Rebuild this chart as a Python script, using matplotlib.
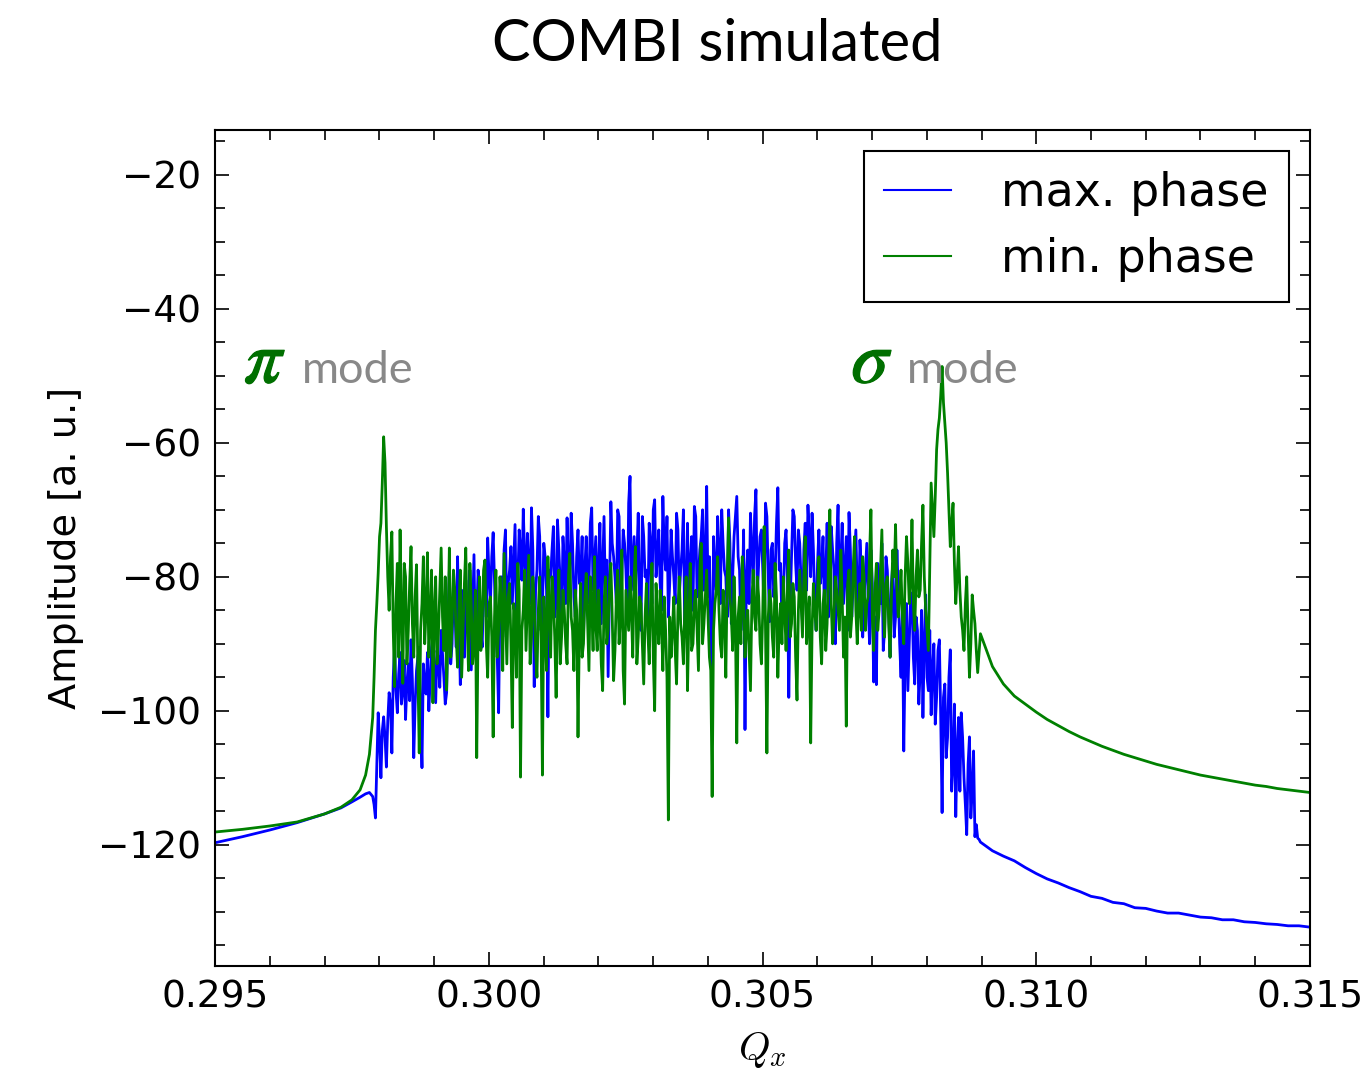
import numpy as np
import matplotlib
matplotlib.use("Agg")
import matplotlib.pyplot as plt
import matplotlib.patheffects as pe

# --- data ------------------------------------------------------------------
# smooth low-Q tail
q_left = [0.2950, 0.2955, 0.2960, 0.2965, 0.2970, 0.2973, 0.2975, 0.29765, 0.29775, 0.29782]
amp_max_left = [-119.7, -118.8, -117.8, -116.7, -115.4, -114.5, -113.6, -112.9, -112.4, -112.2]
amp_min_left = [-118.1, -117.7, -117.2, -116.6, -115.4, -114.4, -113.3, -111.8, -109.6, -106.5]

# noisy band between the pi and sigma modes, read at a uniform step:
# "*_noise" are the readings on the coarse grid, "*_mid" the readings half a step later
q_noise = np.linspace(0.29788, 0.30898, 445)

amp_max_noise = [
    -112.8, -116.0, -100.3, -110.0, -100.9, -108.4, -97.3, -106.3, -90.4, -100.3,
    -91.3, -97.0, -101.3, -93.0, -89.4, -107.0, -94.0, -90.5, -108.5, -96.0,
    -91.3, -95.5, -89.0, -98.8, -92.5, -88.0, -95.0, -97.3, -79.2, -90.0,
    -84.5, -77.0, -96.1, -85.0, -80.5, -89.0, -93.9, -76.7, -86.0, -82.0,
    -90.5, -78.0, -74.2, -84.0, -73.4, -88.0, -100.3, -80.0, -76.0, -87.0,
    -79.0, -84.0, -72.2, -81.0, -76.0, -69.9, -83.0, -78.0, -69.7, -96.4,
    -79.0, -74.0, -85.0, -77.0, -100.9, -80.0, -72.5, -84.0, -76.0, -88.0,
    -78.0, -71.2, -82.0, -75.0, -86.0, -73.0, -80.0, -89.0, -74.0, -81.0,
    -69.7, -78.0, -85.0, -72.0, -79.0, -83.0, -94.9, -68.8, -77.0, -84.0,
    -71.0, -80.0, -75.0, -86.0, -65.0, -78.0, -82.0, -70.5, -88.0, -74.0,
    -79.0, -72.0, -84.0, -68.5, -77.0, -81.0, -68.0, -79.0, -86.0, -73.0,
    -80.0, -70.5, -83.0, -76.0, -89.0, -72.0, -78.0, -85.0, -71.0, -80.0,
    -74.0, -82.0, -66.5, -77.0, -99.6, -79.0, -71.0, -84.0, -75.0, -80.0,
    -70.0, -87.0, -74.0, -68.0, -79.0, -84.0, -102.8, -76.0, -70.5, -81.0,
    -67.0, -78.0, -73.0, -85.0, -71.0, -86.7, -75.0, -80.0, -66.7, -78.0,
    -84.0, -73.0, -98.0, -77.0, -71.0, -82.0, -75.0, -87.0, -72.0, -69.3,
    -80.0, -76.0, -88.0, -73.0, -79.0, -85.0, -72.0, -81.0, -76.0, -90.0,
    -69.3, -78.0, -84.0, -74.0, -70.4, -86.0, -77.0, -82.0, -74.5, -89.0,
    -79.0, -84.0, -76.0, -95.7, -96.1, -80.0, -75.0, -88.0, -79.0, -92.0,
    -78.0, -86.0, -82.0, -95.0, -106.0, -84.0, -90.0, -82.4, -96.0, -88.0,
    -94.0, -101.0, -82.7, -97.0, -100.6, -90.0, -98.0, -89.4, -115.2, -96.0,
    -104.0, -90.9, -108.0, -115.8, -101.0, -100.3, -110.0, -118.5, -103.9, -112.0,
    -118.8, -119.0, -119.6,
]
amp_max_mid = [
    -114.0, -108.0, -104.5, -103.0, -104.0, -101.5, -99.0, -95.0, -97.0, -94.5,
    -99.0, -92.5, -96.0, -98.5, -95.5, -99.0, -92.0, -101.0, -93.0, -97.5,
    -100.0, -90.5, -94.0, -91.0, -96.5, -91.5, -99.0, -86.0, -93.0, -81.0,
    -90.5, -87.0, -82.0, -92.0, -86.0, -79.0, -85.0, -91.0, -79.0, -88.0,
    -81.5, -86.0, -80.0, -77.0, -81.0, -92.0, -83.0, -89.0, -73.0, -81.0,
    -75.5, -78.0, -86.0, -73.0, -80.5, -77.0, -73.5, -84.0, -76.0, -82.0,
    -71.0, -88.0, -75.0, -82.0, -79.0, -76.0, -86.0, -71.5, -81.0, -74.0,
    -84.0, -79.0, -70.5, -83.0, -77.0, -81.0, -74.0, -79.0, -84.0, -72.0,
    -82.0, -74.0, -79.0, -87.0, -71.0, -77.5, -82.0, -75.0, -80.0, -70.0,
    -85.0, -73.0, -79.0, -69.0, -82.0, -74.0, -77.0, -84.0, -71.0, -80.0,
    -86.0, -75.0, -70.0, -80.0, -73.0, -85.0, -76.0, -71.0, -81.0, -77.0,
    -84.0, -73.0, -79.0, -70.0, -82.0, -86.0, -74.0, -69.5, -83.0, -76.0,
    -70.0, -78.0, -83.0, -88.0, -74.0, -82.0, -76.0, -70.0, -79.0, -86.0,
    -75.0, -80.0, -71.0, -77.0, -88.0, -73.0, -80.0, -84.0, -76.0, -71.0,
    -83.0, -74.0, -79.0, -69.0, -80.0, -76.0, -83.0, -72.0, -79.0, -87.0,
    -75.0, -80.0, -84.0, -70.0, -78.0, -73.0, -81.0, -76.0, -82.0, -74.0,
    -70.5, -84.0, -78.0, -81.0, -74.0, -80.0, -86.0, -72.5, -79.0, -75.0,
    -83.0, -72.0, -79.0, -88.0, -76.0, -81.0, -73.0, -86.0, -79.0, -83.0,
    -75.0, -90.0, -81.0, -86.0, -78.0, -84.0, -91.0, -77.0, -85.0, -81.0,
    -89.0, -76.0, -90.0, -85.0, -92.0, -97.0, -83.0, -92.0, -86.0, -99.0,
    -85.0, -90.0, -95.0, -88.0, -94.0, -102.0, -91.0, -101.0, -98.0, -107.0,
    -95.0, -112.0, -99.0, -106.0, -112.0, -104.0, -114.0, -108.0, -116.0, -106.0,
    -117.0, -119.2,
]

amp_min_noise = [
    -101.0, -88.0, -79.5, -72.0, -59.1, -72.5, -85.0, -73.3, -96.4, -78.0,
    -73.0, -95.9, -80.0, -88.0, -75.5, -92.0, -78.2, -106.3, -84.0, -90.0,
    -76.4, -86.0, -98.8, -80.0, -88.5, -75.7, -91.0, -96.9, -75.7, -87.0,
    -82.0, -93.5, -79.0, -88.0, -75.7, -94.0, -84.0, -90.0, -107.0, -80.0,
    -86.5, -77.5, -95.0, -83.0, -103.9, -79.0, -88.0, -84.0, -76.5, -93.0,
    -81.0, -102.5, -86.0, -78.0, -109.9, -85.0, -91.0, -76.8, -89.0, -84.0,
    -95.0, -80.0, -109.6, -87.0, -77.0, -92.0, -83.0, -98.0, -79.0, -89.0,
    -85.0, -93.0, -76.5, -88.0, -82.0, -103.9, -81.0, -90.0, -79.5, -94.0,
    -84.0, -77.0, -91.0, -86.0, -97.0, -80.0, -88.0, -78.0, -95.5, -83.0,
    -90.0, -76.0, -99.0, -85.0, -80.0, -92.0, -75.5, -89.0, -84.0, -96.0,
    -81.0, -93.0, -78.0, -100.0, -86.0, -82.0, -94.0, -88.0, -116.3, -92.0,
    -83.0, -96.0, -80.0, -89.0, -85.0, -97.0, -78.0, -90.0, -82.0, -94.0,
    -75.0, -87.0, -79.0, -92.0, -112.8, -84.0, -77.0, -90.0, -82.0, -95.0,
    -71.2, -86.0, -80.0, -104.8, -83.0, -77.0, -92.0, -85.0, -97.0, -79.0,
    -88.0, -83.0, -93.0, -72.5, -106.3, -82.0, -89.0, -78.0, -95.0, -84.0,
    -80.0, -91.0, -76.0, -87.0, -83.0, -98.4, -79.0, -89.0, -74.0, -86.0,
    -104.8, -81.0, -88.0, -77.0, -93.0, -82.0, -87.0, -70.0, -90.0, -80.0,
    -85.0, -76.0, -92.0, -102.3, -79.0, -86.0, -74.0, -90.0, -81.0, -77.0,
    -88.0, -83.0, -70.0, -91.0, -78.0, -85.0, -73.0, -89.0, -80.0, -92.0,
    -76.0, -72.2, -86.0, -79.0, -90.0, -74.0, -84.0, -71.5, -88.0, -76.0,
    -82.0, -69.3, -85.0, -91.0, -66.0, -74.0, -61.0, -56.3, -48.6, -57.0,
    -64.5, -75.5, -69.0, -84.0, -75.5, -86.0, -91.0, -80.0, -95.0, -82.7,
    -87.0, -94.3, -88.5,
]
amp_min_mid = [
    -95.0, -84.0, -74.0, -66.0, -63.0, -80.0, -77.0, -88.0, -84.0, -92.0,
    -86.0, -78.0, -93.0, -81.0, -87.0, -83.0, -94.0, -88.0, -77.0, -85.0,
    -92.0, -79.0, -85.0, -93.0, -82.0, -86.0, -80.0, -88.0, -92.0, -79.0,
    -89.0, -84.0, -95.0, -81.0, -87.0, -78.0, -93.0, -82.0, -88.0, -91.0,
    -79.0, -90.0, -84.0, -89.0, -86.0, -92.0, -80.0, -94.0, -85.0, -83.0,
    -90.0, -84.0, -95.0, -82.0, -88.0, -79.0, -84.0, -93.0, -80.0, -91.0,
    -85.0, -89.0, -83.0, -94.0, -85.0, -80.0, -89.0, -86.0, -93.0, -82.0,
    -90.0, -80.0, -86.0, -94.0, -85.0, -88.0, -92.0, -83.0, -87.0, -80.0,
    -91.0, -87.0, -82.0, -93.0, -84.0, -90.0, -81.0, -86.0, -91.0, -79.0,
    -86.0, -94.0, -82.0, -88.0, -85.0, -80.0, -93.0, -83.0, -90.0, -86.0,
    -88.0, -84.0, -92.0, -81.0, -90.0, -87.0, -83.0, -95.0, -86.0, -88.0,
    -91.0, -85.0, -87.0, -93.0, -80.0, -86.0, -91.0, -84.0, -88.0, -79.0,
    -90.0, -83.0, -86.0, -94.0, -88.0, -82.0, -85.0, -92.0, -86.0, -80.0,
    -83.0, -91.0, -87.0, -86.0, -90.0, -82.0, -88.0, -91.0, -84.0, -86.0,
    -80.0, -90.0, -85.0, -88.0, -86.0, -84.0, -92.0, -83.0, -87.0, -90.0,
    -85.0, -82.0, -89.0, -81.0, -92.0, -85.0, -84.0, -80.0, -90.0, -83.0,
    -88.0, -85.0, -82.0, -89.0, -84.0, -91.0, -78.0, -84.0, -86.0, -82.0,
    -88.0, -83.0, -86.0, -81.0, -89.0, -79.0, -85.0, -84.0, -88.0, -80.0,
    -84.0, -77.0, -86.0, -82.0, -88.0, -79.0, -84.0, -81.0, -87.0, -83.0,
    -80.0, -82.0, -83.0, -86.0, -80.0, -78.0, -81.0, -84.0, -80.0, -83.0,
    -75.0, -80.0, -88.0, -78.0, -70.0, -68.0, -58.0, -53.0, -54.0, -60.0,
    -70.0, -72.0, -78.0, -80.0, -82.0, -88.0, -84.0, -88.0, -90.0, -85.0,
    -91.0, -91.5,
]

# smooth high-Q tail
q_right = np.linspace(0.3092, 0.3150, 30)
amp_max_right = [-120.9, -121.7, -122.4, -123.4, -124.3, -125.1, -125.7, -126.4, -127.0, -127.7,
                 -128.0, -128.6, -128.8, -129.4, -129.5, -129.9, -130.2, -130.2, -130.5, -130.8,
                 -130.9, -131.2, -131.2, -131.5, -131.6, -131.8, -131.9, -132.1, -132.1, -132.3]
amp_min_right = [-93.4, -96.0, -97.8, -99.0, -100.2, -101.3, -102.2, -103.1, -103.9, -104.6,
                 -105.3, -105.9, -106.5, -107.0, -107.5, -108.0, -108.4, -108.8, -109.2, -109.6,
                 -109.9, -110.2, -110.5, -110.8, -111.1, -111.3, -111.6, -111.8, -112.0, -112.2]

series_labels = ["max. phase", "min. phase"]
series_colors = ["#0000ff", "#008000"]


def weave(coarse, mid):
    # coarse readings at even slots, half-step readings in between
    out = np.empty(len(coarse) + len(mid))
    out[0::2] = coarse
    out[1::2] = mid
    return out


# --- figure ----------------------------------------------------------------
plt.rcParams['mathtext.fontset'] = 'cm'
plt.rcParams['font.family'] = ['DejaVu Sans']

fig = plt.figure(figsize=(13.67, 10.70), dpi=100)
ax = fig.add_axes([0.1573, 0.0972, 0.8010, 0.7813])

q_all = np.concatenate([q_left, q_noise, q_right])
amp_max = np.concatenate([amp_max_left, weave(amp_max_noise, amp_max_mid), amp_max_right])
amp_min = np.concatenate([amp_min_left, weave(amp_min_noise, amp_min_mid), amp_min_right])

ax.plot(q_all, amp_max, color=series_colors[0], lw=2.0, label=series_labels[0])
ax.plot(q_all, amp_min, color=series_colors[1], lw=2.0, label=series_labels[1])

ax.set_xlim(0.295, 0.315)
ax.set_ylim(-138.1, -13.3)
ax.set_xticks([0.295, 0.300, 0.305, 0.310, 0.315])
ax.set_xticks(np.arange(0.295, 0.3151, 0.001), minor=True)
ax.set_yticks([-120, -100, -80, -60, -40, -20])
ax.set_yticks(np.arange(-135, -14, 5), minor=True)
ax.set_yticklabels(["\u2212120", "\u2212100", "\u221280", "\u221260", "\u221240", "\u221220"])
ax.tick_params(which='both', direction='in', top=True, right=True,
               labelsize=27, width=1.2, pad=10)
ax.tick_params(which='major', length=10)
ax.tick_params(which='minor', length=7)
for s in ax.spines.values():
    s.set_linewidth(1.5)

ax.set_xlabel(r"$Q_x$", fontsize=29, labelpad=10)
ax.set_ylabel("Amplitude [a. u.]", fontsize=27.5, labelpad=10)

leg = ax.legend(loc='upper right', fontsize=33, fancybox=False, framealpha=1,
                edgecolor='black', handlelength=1.45, handletextpad=1.1,
                borderaxespad=0.46, borderpad=0.44, labelspacing=0.45)
leg.get_frame().set_linewidth(1.5)
for h in leg.get_lines():
    h.set_linewidth(1.5)

# mode annotations
mode_green = '#006f00'
bold = [pe.withStroke(linewidth=0.9, foreground=mode_green)]
ax.text(0.29553, -51.0, r"$\pi$", color=mode_green, fontsize=54, va='baseline',
        math_fontfamily='stix', path_effects=bold)
ax.text(0.29659, -51.0, "mode", color='#888888', fontsize=32.5, family='Lato', va='baseline')
ax.text(0.30662, -51.0, r"$\sigma$", color=mode_green, fontsize=54, va='baseline',
        math_fontfamily='stix', path_effects=bold)
ax.text(0.30764, -51.0, "mode", color='#888888', fontsize=32.5, family='Lato', va='baseline')

fig.text(0.525, 0.958, "COMBI simulated", fontsize=41.5, family='Lato',
         ha='center', va='center')

fig.savefig("out.png", dpi=100)
